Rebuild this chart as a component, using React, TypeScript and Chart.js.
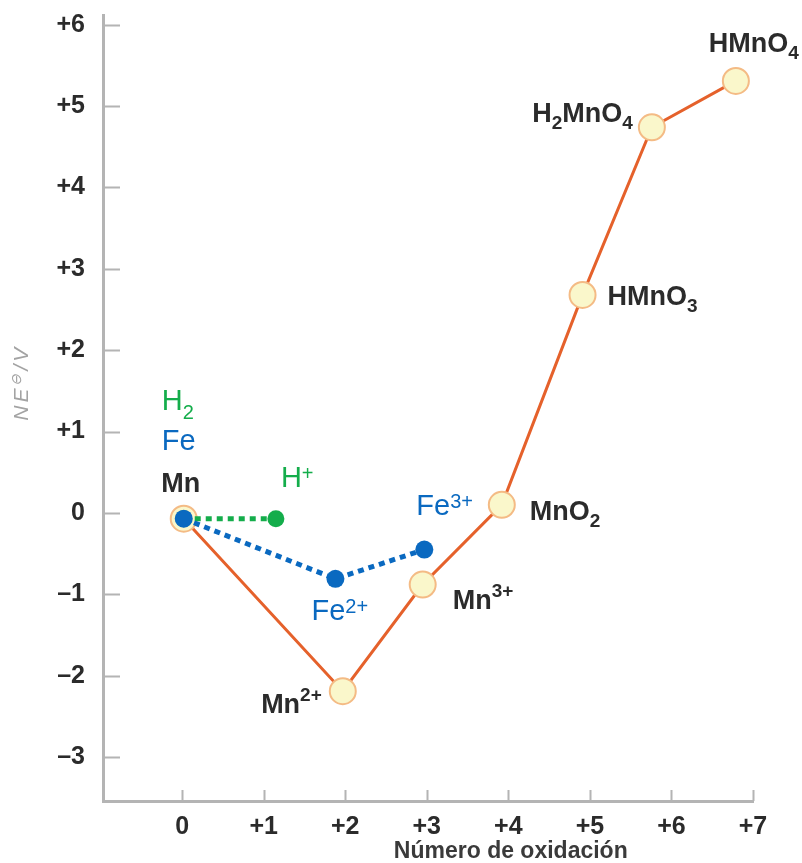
import React, { useEffect, useRef } from 'react';
import { Chart, registerables } from 'chart.js';

Chart.register(...registerables);

// ---------- data ----------
const xTicks = [0, 1, 2, 3, 4, 5, 6, 7];
const xTickLabels = ['0', '+1', '+2', '+3', '+4', '+5', '+6', '+7'];
const yTicks = [-3, -2, -1, 0, 1, 2, 3, 4, 5, 6];
const yTickLabels = ['–3', '–2', '–1', '0', '+1', '+2', '+3', '+4', '+5', '+6'];

const mnSpecies = ['Mn', 'Mn2+', 'Mn3+', 'MnO2', 'HMnO3', 'H2MnO4', 'HMnO4'];
const mnOxidation = [0.02, 1.97, 2.95, 3.92, 4.91, 5.76, 6.79];
const mnEnergy = [-0.07, -2.19, -0.88, 0.1, 2.68, 4.74, 5.31];

const feSpecies = ['Fe', 'Fe2+', 'Fe3+'];
const feOxidation = [0.02, 1.88, 2.97];
const feEnergy = [-0.07, -0.81, -0.45];

const hSpecies = ['H2', 'H+'];
const hOxidation = [0.02, 1.15];
const hEnergy = [-0.07, -0.07];

const xTitle = 'Número de oxidación';

// ---------- styles ----------
const FONT = '"Liberation Sans", Arial, Helvetica, sans-serif';
const ORANGE = '#e5612b';
const BLUE = '#0a69c0';
const GREEN = '#14ad4b';
const AXIS = '#b4b4b4';

type Kind = '' | 'sub' | 'sup';
type Part = [string, Kind];
interface TextStyle { weight: string; size: number; small: number; color: string; subDrop: number; supRise: number; }

const darkStyle: TextStyle = { weight: 'bold', size: 27, small: 19, color: '#2b2b2b', subDrop: 7, supRise: 12 };
const feStyle: TextStyle = { weight: 'normal', size: 29, small: 20, color: BLUE, subDrop: 9, supRise: 7 };
const hStyle: TextStyle = { weight: 'normal', size: 29, small: 20, color: GREEN, subDrop: 9, supRise: 7 };

// label placement: anchored on a dataset point, with a pixel offset
interface LabelSpec { ds: number; i: number; parts: Part[]; style: TextStyle; align: 'left' | 'right' | 'center'; dx: number; dy: number; }

const DS_FE = 0;
const DS_H = 1;
const DS_MN = 2;

const labelSpecs: LabelSpec[] = [
  { ds: DS_MN, i: 0, parts: [['Mn', '']], style: darkStyle, align: 'center', dx: -3, dy: -27 },
  { ds: DS_H, i: 0, parts: [['H', ''], ['2', 'sub']], style: hStyle, align: 'left', dx: -22, dy: -109 },
  { ds: DS_FE, i: 0, parts: [['Fe', '']], style: feStyle, align: 'left', dx: -22, dy: -69 },
  { ds: DS_H, i: 1, parts: [['H', ''], ['+', 'sup']], style: hStyle, align: 'left', dx: 5, dy: -32 },
  { ds: DS_FE, i: 2, parts: [['Fe', ''], ['3+', 'sup']], style: feStyle, align: 'left', dx: -8, dy: -35 },
  { ds: DS_FE, i: 1, parts: [['Fe', ''], ['2+', 'sup']], style: feStyle, align: 'left', dx: -24, dy: 41 },
  { ds: DS_MN, i: 1, parts: [['Mn', ''], ['2+', 'sup']], style: darkStyle, align: 'right', dx: -21, dy: 22 },
  { ds: DS_MN, i: 2, parts: [['Mn', ''], ['3+', 'sup']], style: darkStyle, align: 'left', dx: 30, dy: 24 },
  { ds: DS_MN, i: 3, parts: [['MnO', ''], ['2', 'sub']], style: darkStyle, align: 'left', dx: 28, dy: 15 },
  { ds: DS_MN, i: 4, parts: [['HMnO', ''], ['3', 'sub']], style: darkStyle, align: 'left', dx: 25, dy: 10 },
  { ds: DS_MN, i: 5, parts: [['H', ''], ['2', 'sub'], ['MnO', ''], ['4', 'sub']], style: darkStyle, align: 'right', dx: -19, dy: -5 },
  { ds: DS_MN, i: 6, parts: [['HMnO', ''], ['4', 'sub']], style: darkStyle, align: 'left', dx: -27, dy: -29 },
];

function drawRich(ctx: CanvasRenderingContext2D, parts: Part[], x: number, y: number, align: string, st: TextStyle, italic = false) {
  const pre = italic ? 'italic ' : '';
  const fonts = parts.map(([, k]) => `${pre}${st.weight} ${k ? st.small : st.size}px ${FONT}`);
  const widths = parts.map((p, i) => { ctx.font = fonts[i]; return ctx.measureText(p[0]).width; });
  const total = widths.reduce((a, b) => a + b, 0);
  let cx = align === 'left' ? x : align === 'right' ? x - total : x - total / 2;
  ctx.textAlign = 'left';
  ctx.textBaseline = 'alphabetic';
  ctx.fillStyle = st.color;
  parts.forEach((p, i) => {
    ctx.font = fonts[i];
    const off = p[1] === 'sub' ? st.subDrop : p[1] === 'sup' ? -st.supRise : 0;
    ctx.fillText(p[0], cx, y + off);
    cx += widths[i];
  });
}

const annotationPlugin = {
  id: 'frostAnnotations',
  afterDraw(chart: any) {
    const ctx: CanvasRenderingContext2D = chart.ctx;
    const { left, bottom } = chart.chartArea;
    const xs = chart.scales.x;
    const ys = chart.scales.y;
    ctx.save();
    // inner tick marks
    ctx.strokeStyle = AXIS;
    ctx.lineWidth = 2;
    ctx.beginPath();
    yTicks.forEach((v) => {
      const py = Math.round(ys.getPixelForValue(v)) + 0.5;
      ctx.moveTo(left, py);
      ctx.lineTo(left + 17, py);
    });
    xTicks.forEach((v) => {
      const px = Math.round(xs.getPixelForValue(v)) + 0.5;
      ctx.moveTo(px, bottom);
      ctx.lineTo(px, bottom - 11);
    });
    ctx.stroke();

    // x title
    ctx.font = `bold 23px ${FONT}`;
    ctx.fillStyle = '#3a3a3a';
    ctx.textAlign = 'center';
    ctx.textBaseline = 'alphabetic';
    ctx.fillText(xTitle, xs.getPixelForValue(4.03), 858);

    // y title (rotated)
    ctx.save();
    ctx.translate(20, ys.getPixelForValue(1.6));
    ctx.rotate(-Math.PI / 2);
    (ctx as any).letterSpacing = '3px';
    drawRich(ctx, [['NE', ''], ['⊖', 'sup'], ['/V', '']], 0, 8, 'center',
      { weight: 'normal', size: 21, small: 14, color: '#a3a3a3', subDrop: 0, supRise: 7 }, true);
    ctx.restore();

    // species labels
    labelSpecs.forEach((l) => {
      const el = chart.getDatasetMeta(l.ds).data[l.i];
      drawRich(ctx, l.parts, el.x + l.dx, el.y + l.dy, l.align, l.style);
    });
    ctx.restore();
  },
};

function zipPoints(xs: number[], ys: number[]) {
  return xs.map((x, i) => ({ x, y: ys[i] }));
}

export default function App() {
  const ref = useRef<HTMLCanvasElement>(null);
  useEffect(() => {
    document.body.style.margin = '0';
    const canvas = ref.current!;
    const chart = new Chart(canvas, {
      type: 'scatter',
      data: {
        datasets: [
          {
            label: feSpecies.join(' / '),
            data: zipPoints(feOxidation, feEnergy),
            showLine: true,
            borderColor: BLUE,
            borderWidth: 5,
            borderDash: [6, 5],
            borderCapStyle: 'butt',
            pointRadius: 9,
            pointBackgroundColor: BLUE,
            pointBorderWidth: 0,
            order: 0,
          },
          {
            label: hSpecies.join(' / '),
            data: zipPoints(hOxidation, hEnergy),
            showLine: true,
            borderColor: GREEN,
            borderWidth: 5,
            borderDash: [6, 5],
            borderCapStyle: 'butt',
            pointRadius: 8.5,
            pointBackgroundColor: GREEN,
            pointBorderWidth: 0,
            order: 1,
          },
          {
            label: mnSpecies.join(' / '),
            data: zipPoints(mnOxidation, mnEnergy),
            showLine: true,
            borderColor: ORANGE,
            borderWidth: 3,
            pointRadius: 13,
            pointBackgroundColor: '#faf7cb',
            pointBorderColor: '#f4bb85',
            pointBorderWidth: 2,
            order: 2,
          },
        ] as any,
      },
      options: {
        animation: false,
        responsive: false,
        events: [],
        layout: { padding: { left: 0, right: 49, top: 10, bottom: 0 } },
        plugins: { legend: { display: false }, tooltip: { enabled: false }, title: { display: false } },
        scales: {
          x: {
            type: 'linear',
            min: -0.97,
            max: 7,
            grid: { display: false, drawTicks: false },
            border: { display: true, color: AXIS, width: 3 },
            afterBuildTicks: (s: any) => { s.ticks = xTicks.map((v) => ({ value: v })); },
            afterFit: (s: any) => { s.height = 62; s.paddingLeft = 0; s.paddingRight = 0; },
            ticks: {
              padding: 11,
              color: '#2b2b2b',
              font: { family: FONT, size: 25, weight: 'bold' },
              callback: (v: any) => xTickLabels[xTicks.indexOf(Number(v))] ?? '',
            },
          },
          y: {
            type: 'linear',
            min: -3.54,
            max: 6.12,
            grid: { display: false, drawTicks: false },
            border: { display: true, color: AXIS, width: 3 },
            afterBuildTicks: (s: any) => { s.ticks = yTicks.map((v) => ({ value: v })); },
            afterFit: (s: any) => { s.width = 103; s.paddingTop = 0; s.paddingBottom = 0; },
            ticks: {
              padding: 18,
              color: '#2b2b2b',
              font: { family: FONT, size: 25, weight: 'bold' },
              callback: (v: any) => yTickLabels[yTicks.indexOf(Number(v))] ?? '',
            },
          },
        },
      } as any,
      plugins: [annotationPlugin],
    });
    return () => chart.destroy();
  }, []);
  return (
    <div style={{ width: 802, height: 863, background: '#fff' }}>
      <canvas ref={ref} width={802} height={863} style={{ display: 'block' }} />
    </div>
  );
}
